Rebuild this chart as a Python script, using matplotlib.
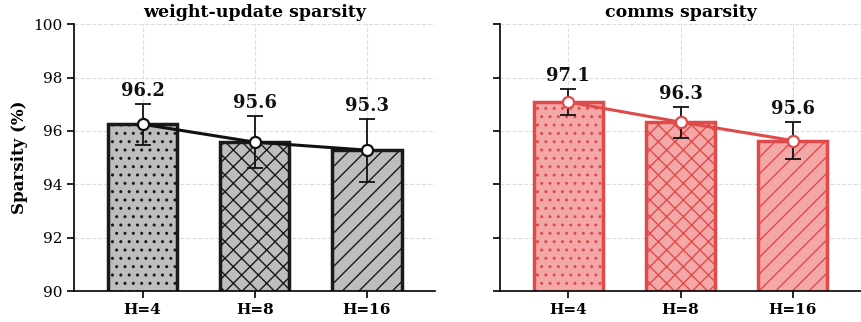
import matplotlib.pyplot as plt
import numpy as np

plt.rcParams['font.family'] = 'DejaVu Serif'

labels = ['H=4', 'H=8', 'H=16']
weight_vals = [96.25, 95.58, 95.28]
weight_err = [0.76, 0.97, 1.18]
comms_vals = [97.08, 96.33, 95.64]
comms_err = [0.50, 0.58, 0.69]
value_text_w = ['96.2', '95.6', '95.3']
value_text_c = ['97.1', '96.3', '95.6']
hatches = ['..', 'xx', '//']

fig, axes = plt.subplots(1, 2, figsize=(8.62, 3.22), dpi=100, sharey=True)
fig.subplots_adjust(left=0.086, right=0.999, bottom=0.096, top=0.925, wspace=0.179)

panels = [
    (axes[0], weight_vals, weight_err, value_text_w, '#bdbdbd', '#1a1a1a', '#111111', 'weight-update sparsity'),
    (axes[1], comms_vals, comms_err, value_text_c, '#f4a7a7', '#e04a4a', '#e04a4a', 'comms sparsity'),
]

x = np.arange(len(labels))
for ax, vals, err, txt, face, edge, line_c, title in panels:
    ax.set_axisbelow(True)
    ax.grid(True, linestyle='--', color='#dddddd', linewidth=0.8)
    for i in range(len(labels)):
        ax.bar(x[i], vals[i], width=0.62, bottom=0, color=face, edgecolor=edge,
               linewidth=2.5, hatch=hatches[i], zorder=2)
    ax.errorbar(x, vals, yerr=err, fmt='none', ecolor='#111111', elinewidth=1.3,
                capsize=6, capthick=1.3, zorder=3)
    ax.plot(x, vals, color=line_c, linewidth=2.2, marker='o', markersize=8,
            markerfacecolor='white', markeredgecolor=line_c, markeredgewidth=1.6, zorder=4)
    for i in range(len(labels)):
        ax.text(x[i], vals[i] + err[i] + 0.15, txt[i], ha='center', va='bottom',
                fontsize=13, fontweight='bold', color='#111111')
    ax.set_title(title, fontsize=12.5, fontweight='bold', pad=5)
    ax.set_xticks(x)
    ax.set_xticklabels(labels, fontsize=11, fontweight='bold')
    ax.set_xlim(-0.61, 2.61)
    ax.spines['top'].set_visible(False)
    ax.spines['right'].set_visible(False)
    ax.spines['left'].set_linewidth(1.2)
    ax.spines['bottom'].set_linewidth(1.2)
    ax.tick_params(axis='both', width=1.2, length=5)

axes[0].set_ylim(90, 100)
axes[0].set_yticks([90, 92, 94, 96, 98, 100])
axes[0].tick_params(axis='y', labelsize=11)
axes[0].set_ylabel('Sparsity (%)', fontsize=12, fontweight='bold')
axes[1].tick_params(axis='y', labelleft=False)

plt.savefig('out.png', dpi=100)
